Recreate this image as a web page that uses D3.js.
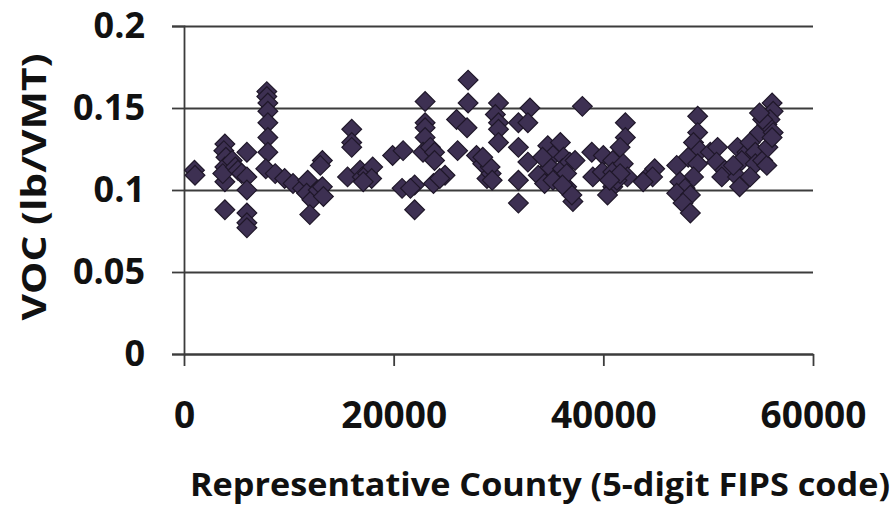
<!DOCTYPE html>
<html>
<head>
<meta charset="utf-8">
<script src="https://cdn.jsdelivr.net/npm/d3@7"></script>
<style>
  body { margin: 0; background: #fff; }
  svg { display: block; }
  .tick text { font-family: "Open Sans", "DejaVu Sans", sans-serif; font-weight: 700; fill: #111; }
  .title { font-family: "Open Sans", "DejaVu Sans", sans-serif; font-weight: 700; fill: #111; }
</style>
</head>
<body>
<svg id="chart" width="896" height="506"></svg>
<script>
// county FIPS code vs VOC emission rate
const fips = [
  1000, 1050, 3900, 3800, 4000, 3900, 3900, 3900, 3700, 4600,
  4900, 5150, 5500, 6000, 6000, 6000, 6000, 6000, 6000, 7900,
  7900, 8000, 8000, 8000, 8000, 8000, 7800, 8700, 9600, 10400,
  11300, 11800, 11700, 12200, 12800, 13200, 12000, 13200, 13000, 13300,
  16000, 16000, 16000, 15600, 16800, 17000, 17500, 18000, 17900, 17100,
  19900, 20900, 20800, 22000, 22000, 21600, 23000, 23000, 23000, 23000,
  22800, 23500, 23900, 23900, 23800, 24900, 24400, 27100, 27100, 26000,
  27000, 26100, 27900, 28500, 28900, 29300, 29200, 30000, 29700, 30000,
  30000, 30000, 28500, 29400, 33000, 31900, 32800, 31900, 32800, 31900,
  31900, 33800, 34400, 34700, 35900, 35200, 36200, 34900, 36100, 36800,
  37300, 35900, 36500, 37100, 37000, 38000, 38900, 39000, 40000, 39900,
  40900, 40900, 40900, 42100, 42100, 41600, 41900, 42300, 41300, 40400,
  44200, 44900, 44700, 43800, 49000, 49000, 48600, 49200, 48100, 49000,
  47000, 48600, 47300, 47800, 47000, 48300, 47600, 48300, 50200, 50900,
  50800, 51600, 51300, 52800, 53000, 52800, 53700, 53200, 54000, 54500,
  54900, 54500, 55200, 55600, 55700, 56100, 56200, 55900, 55600, 56200,
  56100, 55200, 54900, 52400, 54000, 34200, 35200, 36500, 36100, 41600,
  40600
];
const voc = [
  0.112, 0.109, 0.128, 0.124, 0.120, 0.114, 0.105, 0.088, 0.110, 0.118,
  0.114, 0.112, 0.110, 0.123, 0.108, 0.100, 0.086, 0.080, 0.077, 0.160,
  0.157, 0.153, 0.148, 0.141, 0.132, 0.123, 0.113, 0.110, 0.107, 0.104,
  0.101, 0.106, 0.098, 0.094, 0.100, 0.102, 0.085, 0.118, 0.115, 0.096,
  0.137, 0.129, 0.126, 0.108, 0.112, 0.108, 0.110, 0.114, 0.107, 0.105,
  0.121, 0.124, 0.101, 0.103, 0.088, 0.101, 0.154, 0.141, 0.138, 0.132,
  0.123, 0.126, 0.123, 0.118, 0.104, 0.109, 0.107, 0.167, 0.153, 0.143,
  0.138, 0.124, 0.121, 0.116, 0.107, 0.110, 0.114, 0.153, 0.146, 0.141,
  0.137, 0.129, 0.120, 0.106, 0.150, 0.141, 0.141, 0.126, 0.117, 0.106,
  0.092, 0.109, 0.104, 0.127, 0.129, 0.121, 0.120, 0.114, 0.113, 0.117,
  0.118, 0.106, 0.102, 0.093, 0.097, 0.151, 0.123, 0.108, 0.121, 0.111,
  0.118, 0.102, 0.111, 0.141, 0.132, 0.126, 0.116, 0.108, 0.106, 0.097,
  0.108, 0.113, 0.108, 0.105, 0.145, 0.135, 0.129, 0.124, 0.120, 0.116,
  0.115, 0.108, 0.105, 0.101, 0.098, 0.097, 0.092, 0.086, 0.123, 0.126,
  0.117, 0.112, 0.108, 0.108, 0.102, 0.126, 0.123, 0.118, 0.129, 0.123,
  0.135, 0.116, 0.118, 0.115, 0.126, 0.153, 0.148, 0.143, 0.140, 0.135,
  0.132, 0.143, 0.147, 0.115, 0.108, 0.120, 0.106, 0.110, 0.103, 0.110,
  0.106
];
const xTicks = [0, 20000, 40000, 60000];
const yTicks = [0, 0.05, 0.1, 0.15, 0.2];
const xTitle = 'Representative County (5-digit FIPS code)';
const yTitle = 'VOC (lb/VMT)';

const svg = d3.select('#chart');
const margin = { left: 184, right: 83, top: 26, bottom: 152 };
const width = 896 - margin.left - margin.right;
const height = 506 - margin.top - margin.bottom;

const x = d3.scaleLinear().domain([0, 60000]).range([0, width]);
const y = d3.scaleLinear().domain([0, 0.2]).range([height, 0]);

const g = svg.append('g').attr('transform', `translate(${margin.left},${margin.top})`);
const lineColor = '#3c3c3c';

// gridlines
g.append('g')
  .call(d3.axisLeft(y).tickValues(yTicks).tickSize(-width).tickFormat(''))
  .call(a => a.select('.domain').remove())
  .call(a => a.selectAll('line').attr('stroke', lineColor).attr('stroke-width', 1.8));

// y axis
g.append('g')
  .call(d3.axisLeft(y).tickValues(yTicks).tickSize(12).tickPadding(27)
    .tickFormat(d => (d === 0 ? '0' : String(d))))
  .call(a => a.selectAll('line, .domain').attr('stroke', lineColor).attr('stroke-width', 1.8))
  .call(a => a.selectAll('text').style('font-size', '36px'));

// x axis
g.append('g')
  .attr('transform', `translate(0,${height})`)
  .call(d3.axisBottom(x).tickValues(xTicks).tickSize(12).tickPadding(36).tickSizeOuter(0)
    .tickFormat(d3.format('d')))
  .call(a => a.selectAll('line, .domain').attr('stroke', lineColor).attr('stroke-width', 1.8))
  .call(a => a.selectAll('text').style('font-size', '37px'));

// markers
const diamond = d3.symbol().type(d3.symbolSquare).size(195);
g.append('g')
  .selectAll('path')
  .data(fips.map((f, i) => ({ f, v: voc[i] })))
  .join('path')
  .attr('d', diamond)
  .attr('transform', d => `translate(${x(d.f)},${y(d.v)}) rotate(45)`)
  .attr('fill', '#3d3052')
  .attr('stroke', '#1f1729')
  .attr('stroke-width', 1.2);

// titles
svg.append('text')
  .attr('class', 'title')
  .attr('x', 540)
  .attr('y', 496)
  .attr('text-anchor', 'middle')
  .attr('textLength', 700)
  .attr('lengthAdjust', 'spacingAndGlyphs')
  .style('font-size', '33px')
  .text(xTitle);

svg.append('text')
  .attr('class', 'title')
  .attr('transform', 'translate(46,187) rotate(-90)')
  .attr('text-anchor', 'middle')
  .attr('textLength', 267)
  .attr('lengthAdjust', 'spacingAndGlyphs')
  .style('font-size', '34px')
  .text(yTitle);
</script>
</body>
</html>
